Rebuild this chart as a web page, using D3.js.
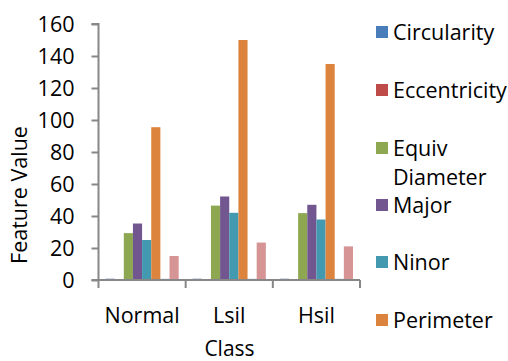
<!DOCTYPE html>
<html>
<head>
<meta charset="utf-8">
<script src="https://cdn.jsdelivr.net/npm/d3@7"></script>
<style>
html,body{margin:0;padding:0;background:#fff;}
svg{display:block;font-family:"Open Sans",sans-serif;}
</style>
</head>
<body>
<svg id="chart" width="508" height="361"></svg>
<script>
const categories = ["Normal", "Lsil", "Hsil"];
const seriesNames = ["Circularity", "Eccentricity", "Equiv Diameter", "Major", "Ninor", "Perimeter", "Solidity", "Minor"];
const circularity = [0.8, 0.8, 0.8];
const eccentricity = [0.6, 0.6, 0.6];
const equivDiameter = [29.3, 46.5, 41.8];
const major = [35.3, 52.2, 47];
const ninor = [25, 42, 37.8];
const perimeter = [95.5, 150, 135];
const solidity = [0.7, 0.7, 0.7];
const minor = [15, 23.4, 21];
const yTicks = [0, 20, 40, 60, 80, 100, 120, 140, 160];
const colors = ["#4A7EBB", "#BE4B48", "#8DA851", "#725690", "#4299B0", "#DC843D", "#5C86B8", "#D69494"];
const legendShown = 6; // only the first six entries fit in the visible legend

const seriesValues = [circularity, eccentricity, equivDiameter, major, ninor, perimeter, solidity, minor];

const svg = d3.select("#chart");
const mLeft = 98.5, mRight = 360, mTop = 24, mBottom = 280;

const x = d3.scaleBand().domain(categories).range([mLeft, mRight]).padding(0);
const inner = d3.scaleBand().domain(seriesNames).range([7, x.bandwidth() - 7]).padding(0);
const y = d3.scaleLinear().domain([0, 160]).range([mBottom, mTop]);

// bars
const g = svg.append("g");
categories.forEach((c, ci) => {
  seriesNames.forEach((s, si) => {
    const v = seriesValues[si][ci];
    g.append("rect")
      .attr("x", x(c) + inner(s))
      .attr("y", y(v))
      .attr("width", inner.bandwidth())
      .attr("height", mBottom - y(v))
      .attr("fill", colors[si]);
  });
});

const axisColor = "#878787";
// y axis
const yAxis = svg.append("g").attr("transform", `translate(${mLeft},0)`)
  .call(d3.axisLeft(y).tickValues(yTicks).tickSize(7).tickPadding(17).tickFormat(d3.format("d")));
yAxis.select(".domain").attr("stroke", axisColor).attr("stroke-width", 2).attr("d", `M-7,${mTop}H0V${mBottom}`);
yAxis.selectAll(".tick line").attr("stroke", axisColor).attr("stroke-width", 2);
yAxis.selectAll(".tick text").attr("font-size", 21.5).attr("font-family", "Open Sans").attr("fill", "#000").attr("dy", "0.36em");

// x axis line with boundary ticks
const xAxisG = svg.append("g");
xAxisG.append("line").attr("x1", mLeft - 7).attr("x2", mRight).attr("y1", mBottom).attr("y2", mBottom)
  .attr("stroke", axisColor).attr("stroke-width", 2);
const bounds = categories.map(c => x(c)).concat([x(categories[categories.length - 1]) + x.bandwidth()]);
xAxisG.selectAll("line.b").data(bounds).enter().append("line")
  .attr("x1", d => d).attr("x2", d => d).attr("y1", mBottom).attr("y2", mBottom + 8)
  .attr("stroke", axisColor).attr("stroke-width", 2);
xAxisG.selectAll("text").data(categories).enter().append("text")
  .attr("x", d => x(d) + x.bandwidth() / 2).attr("y", 323)
  .attr("text-anchor", "middle").attr("font-size", 21.5).text(d => d);

// axis titles
svg.append("text").attr("x", 229.5).attr("y", 356).attr("text-anchor", "middle")
  .attr("font-size", 21).text("Class");
svg.append("text").attr("transform", "translate(27,195) rotate(-90)").attr("text-anchor", "middle")
  .attr("font-size", 21.5).text("Feature Value");

// legend
const legendY = [32, 90, 148, 205, 262, 320];
const lg = svg.append("g");
seriesNames.slice(0, legendShown).forEach((s, i) => {
  const cy = legendY[i];
  lg.append("rect").attr("x", 376).attr("y", cy - 6).attr("width", 12).attr("height", 12).attr("fill", colors[i]);
  const t = lg.append("text").attr("x", 393).attr("y", cy + 7.5).attr("font-size", 21.5);
  if (s === "Equiv Diameter") {
    t.append("tspan").attr("x", 393).text("Equiv");
    t.append("tspan").attr("x", 393).attr("dy", 29).text("Diameter");
  } else {
    t.text(s);
  }
});
</script>
</body>
</html>
